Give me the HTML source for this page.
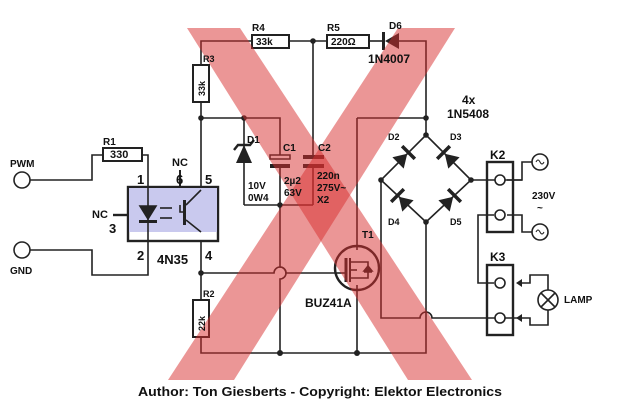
<!DOCTYPE html>
<html><head><meta charset="utf-8"><style>
html,body{margin:0;padding:0;background:#fff;}
svg{display:block;}
text{font-family:"Liberation Sans",sans-serif;font-weight:bold;fill:#111;}
</style></head><body>
<svg width="620" height="418" viewBox="0 0 620 418" xmlns="http://www.w3.org/2000/svg">
<g stroke="#222" stroke-width="1.6" fill="none">
<polyline points="201,65 201,41 252,41"/>
<line x1="289" y1="41" x2="327" y2="41"/>
<line x1="369" y1="41" x2="383" y2="41"/>
<polyline points="399,41 426,41 426,135"/>
<rect x="252" y="35" width="37" height="13" stroke-width="2"/>
<rect x="327" y="35" width="42" height="13" stroke-width="2"/>
<rect x="193" y="65" width="16" height="37" stroke-width="2"/>
<line x1="201" y1="102" x2="201" y2="187"/>
<line x1="313" y1="41" x2="313" y2="157"/>
<line x1="313" y1="166" x2="313" y2="205"/>
<polyline points="201,118 280,118 280,155"/>
<line x1="244" y1="118" x2="244" y2="205"/>
<polyline points="280,164 280,205 244,205"/>
<line x1="280" y1="205" x2="313" y2="205"/>
<path d="M280,205 V267 a6,6 0 0 1 0,12 V353"/>
<polyline points="357,118 426,118"/>
<line x1="357" y1="118" x2="357" y2="250"/>
<line x1="357" y1="285" x2="357" y2="353"/>
<line x1="201" y1="232" x2="201" y2="300"/>
<rect x="193" y="300" width="16" height="37" stroke-width="2"/>
<polyline points="201,337 201,353 426,353 426,222"/>
<path d="M201,273 H274 a6,6 0 0 1 12,0 H337"/>
<circle cx="22" cy="180" r="8"/>
<circle cx="22" cy="250" r="8"/>
<polyline points="30,180 92,180 92,155 103,155"/>
<rect x="103" y="148" width="39" height="13" stroke-width="2"/>
<polyline points="142,155 148,155 148,187"/>
<polyline points="30,250 92,250 92,275 148,275 148,241"/>
<line x1="113" y1="215" x2="128" y2="215" stroke-width="2.4"/>
<line x1="180" y1="170" x2="180" y2="205" stroke-width="2"/>
<polygon points="426,135 471,180 426,222 381,180"/>
<line x1="471" y1="180" x2="522" y2="180"/>
<path d="M381,180 V318 H420 a6,6 0 0 1 12,0 H522"/>
<rect x="487" y="162" width="26" height="70" stroke-width="2.4"/>
<rect x="487" y="265" width="26" height="70" stroke-width="2.4"/>
<polyline points="507,180 522,180 522,162 532,162"/>
<polyline points="507,215 522,215 522,232 532,232"/>
<polyline points="494,215 478,215 478,283 494,283"/>
<circle cx="540" cy="162" r="8"/>
<circle cx="540" cy="232" r="8"/>
<polyline points="522,283 530,283 530,275 548,275 548,290"/>
<polyline points="522,318 530,318 530,325 548,325 548,310"/>
<circle cx="548" cy="300" r="10"/>
<line x1="541" y1="293" x2="555" y2="307"/><line x1="555" y1="293" x2="541" y2="307"/>
<circle cx="357" cy="268" r="22" stroke-width="2.4"/>
</g>
<g fill="#fff" stroke="#222" stroke-width="1.6">
<circle cx="500" cy="180" r="5"/><circle cx="500" cy="215" r="5"/>
<circle cx="500" cy="283" r="5"/><circle cx="500" cy="318" r="5"/>
</g>
<g fill="#222">
<path d="M516,283 l6,-4 v8z M516,318 l6,-4 v8z"/>
<path d="M536,162 q2,-4 4,0 t4,0 M536,232 q2,-4 4,0 t4,0" stroke="#222" fill="none"/>
<circle cx="313" cy="41" r="2.8"/><circle cx="201" cy="118" r="2.8"/><circle cx="244" cy="118" r="2.8"/>
<circle cx="426" cy="118" r="2.8"/><circle cx="280" cy="205" r="2.8"/><circle cx="201" cy="273" r="2.8"/>
<circle cx="280" cy="353" r="3"/><circle cx="357" cy="353" r="3"/><circle cx="426" cy="135" r="2.8"/>
<circle cx="381" cy="180" r="2.8"/><circle cx="426" cy="222" r="2.8"/><circle cx="471" cy="180" r="2.8"/>
<path d="M385,41 L399,33 V49Z"/><rect x="382" y="32" width="3" height="18"/>
<path d="M244,145 L236,163 H252Z"/><path d="M234,150 L238,145 H250 L254,140" stroke="#222" stroke-width="2.4" fill="none"/>
<rect x="270" y="155" width="20" height="4" fill="#fff" stroke="#222" stroke-width="1.5"/>
<rect x="270" y="164" width="20" height="4"/>
<rect x="303" y="155" width="21" height="4"/><rect x="303" y="164" width="21" height="4"/>
</g>
<g fill="#222">
<g transform="translate(403,158) rotate(-45)"><path d="M-7,-8 L-7,8 L6,0Z"/><rect x="6" y="-9" width="3.5" height="18"/></g>
<g transform="translate(449,158) rotate(-135)"><path d="M-7,-8 L-7,8 L6,0Z"/><rect x="6" y="-9" width="3.5" height="18"/></g>
<g transform="translate(403,201) rotate(-135)"><path d="M-7,-8 L-7,8 L6,0Z"/><rect x="6" y="-9" width="3.5" height="18"/></g>
<g transform="translate(449,201) rotate(-45)"><path d="M-7,-8 L-7,8 L6,0Z"/><rect x="6" y="-9" width="3.5" height="18"/></g>
</g>
<rect x="128" y="187" width="90" height="54" fill="#fff" stroke="#222" stroke-width="2.4"/>
<rect x="129" y="188" width="88" height="44" fill="#c9c9ee"/>
<g stroke="#222" fill="#222" stroke-width="1.6">
<line x1="148" y1="187" x2="148" y2="241"/>
<path d="M140,206 H156 L148,219Z"/><rect x="139" y="220" width="18" height="3" stroke="none"/>
<line x1="160" y1="208" x2="172" y2="208"/><line x1="160" y1="218" x2="172" y2="218"/>
<rect x="183" y="200" width="3" height="25" stroke="none"/>
<polyline points="180,205 180,212 183,212" fill="none"/>
<polyline points="186,205 201,190" fill="none"/><polyline points="186,220 201,232" fill="none"/>
</g>
<g stroke="#222" stroke-width="1.6" fill="none">
<line x1="337" y1="273" x2="346" y2="273"/><line x1="346" y1="258" x2="346" y2="282" stroke-width="3"/>
<line x1="350" y1="258" x2="350" y2="282" stroke-width="2"/>
<polyline points="350,262 368,262 368,278 350,278"/><line x1="350" y1="270" x2="357" y2="270"/>
<path d="M364,272 h8 M368,266 l-4,5 h8z" fill="#222"/>
</g>
<g fill="rgba(215,45,45,0.5)">
<polygon points="187,28 240,28 472,380 408,380"/>
<polygon points="398,28 455,28 234,380 168,380"/>
</g>
<g font-size="10">
<text x="252" y="31">R4</text><text x="327" y="31">R5</text><text x="389" y="29">D6</text>
<text x="203" y="62" font-size="9">R3</text><text x="103" y="145">R1</text><text x="203" y="297" font-size="9">R2</text>
<text x="247" y="143">D1</text><text x="283" y="151">C1</text><text x="318" y="151">C2</text>
<text x="362" y="238">T1</text>
<text x="388" y="140" font-size="9">D2</text><text x="450" y="140" font-size="9">D3</text>
<text x="388" y="225" font-size="9">D4</text><text x="450" y="225" font-size="9">D5</text>
<text x="248" y="189">10V</text><text x="248" y="201">0W4</text>
<text x="284" y="184">2µ2</text><text x="284" y="196">63V</text>
<text x="317" y="179">220n</text><text x="317" y="191">275V~</text><text x="317" y="203">X2</text>
<text x="532" y="199">230V</text><text x="537" y="211">~</text>
<text x="10" y="167">PWM</text><text x="10" y="274">GND</text>
<text x="564" y="303">LAMP</text>
<text x="256" y="45">33k</text><text x="331" y="45">220Ω</text>
<text x="110" y="158" font-size="11">330</text>
</g>
<text x="205" y="96" font-size="9" transform="rotate(-90 205 96)">33k</text>
<text x="205" y="331" font-size="9" transform="rotate(-90 205 331)">22k</text>
<g font-size="12">
<text x="368" y="63">1N4007</text><text x="462" y="104">4x</text><text x="447" y="118">1N5408</text>
<text x="305" y="307">BUZ41A</text><text x="490" y="159">K2</text><text x="490" y="261">K3</text>
<text x="172" y="166" font-size="11">NC</text><text x="92" y="218" font-size="11">NC</text>
</g>
<g font-size="13">
<text x="137" y="184">1</text><text x="176" y="184">6</text><text x="205" y="184">5</text>
<text x="109" y="233">3</text><text x="137" y="260">2</text><text x="205" y="260">4</text>
<text x="157" y="264">4N35</text>
</g>
<text x="138" y="396" font-size="13" textLength="364" lengthAdjust="spacingAndGlyphs">Author: Ton Giesberts - Copyright: Elektor Electronics</text>
</svg>
</body></html>
